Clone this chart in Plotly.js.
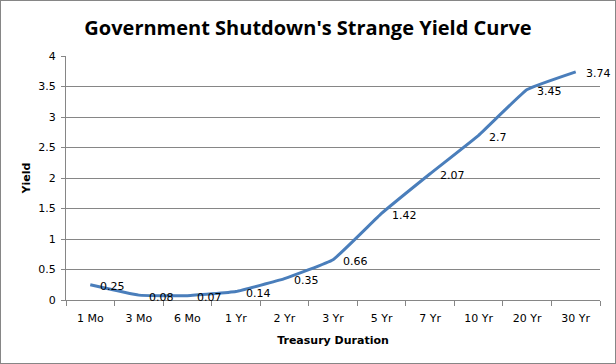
<!DOCTYPE html>
<html><head><meta charset="utf-8">
<script src="https://cdn.plot.ly/plotly-3.0.1.min.js"></script>
<style>html,body{margin:0;padding:0;background:#fff}#chart{width:614px;height:362px;border:1px solid #868686}</style>
</head><body><div id="chart"></div>
<script>
const categories = ["1 Mo","3 Mo","6 Mo","1 Yr","2 Yr","3 Yr","5 Yr","7 Yr","10 Yr","20 Yr","30 Yr"];
const yields = [0.25,0.08,0.07,0.14,0.35,0.66,1.42,2.07,2.7,3.45,3.74];
const yTicks = [0,0.5,1,1.5,2,2.5,3,3.5,4];
const yTickText = ["0","0.5","1","1.5","2","2.5","3","3.5","4"];

const labelFont = {family: "DejaVu Sans, Verdana, sans-serif", size: 11, color: "#000"};
const trace = {
  x: categories, y: yields, type: "scatter", mode: "lines",
  line: {color: "#4A7EBB", width: 3, shape: "spline", smoothing: 0.3},
  cliponaxis: false, hoverinfo: "none"
};
const annotations = categories.map((c, i) => ({
  x: c, y: yields[i], xref: "x", yref: "y", text: String(yields[i]),
  showarrow: false, xanchor: "left", yanchor: "middle", xshift: 8, yshift: -2,
  font: labelFont
}));
const layout = {
  width: 614, height: 362,
  margin: {l: 65, r: 15, t: 55, b: 63},
  paper_bgcolor: "#fff", plot_bgcolor: "#fff",
  showlegend: false,
  annotations: annotations,
  title: {text: "Government Shutdown's Strange Yield Curve", x: 0.5, xanchor: "center", y: 0.925, yanchor: "middle",
          font: {family: "Open Sans, Liberation Sans, sans-serif", size: 20, color: "#000", weight: "bold"}},
  xaxis: {
    type: "category", categoryarray: categories, range: [-0.5, categories.length - 0.5],
    tickson: "boundaries", ticks: "outside", ticklen: 5, tickcolor: "#868686",
    showline: true, linecolor: "#868686", linewidth: 1, showgrid: false, zeroline: false,
    tickfont: labelFont, ticklabelstandoff: 8,
    title: {text: "Treasury Duration", standoff: 12, font: {family: "DejaVu Sans, Verdana, sans-serif", size: 11, color: "#000", weight: "bold"}},
    fixedrange: true
  },
  yaxis: {
    range: [0, 4], tickvals: yTicks, ticktext: yTickText, ticks: "outside", ticklen: 4, tickcolor: "#868686",
    showline: true, linecolor: "#868686", linewidth: 1, showgrid: true, gridcolor: "#868686", gridwidth: 1, zeroline: false,
    tickfont: labelFont,
    ticklabelstandoff: 3,
    title: {text: "Yield", standoff: 5, font: {family: "DejaVu Sans, Verdana, sans-serif", size: 11, color: "#000", weight: "bold"}},
    fixedrange: true
  }
};
Plotly.newPlot("chart", [trace], layout, {displayModeBar: false, staticPlot: true});
</script></body></html>
